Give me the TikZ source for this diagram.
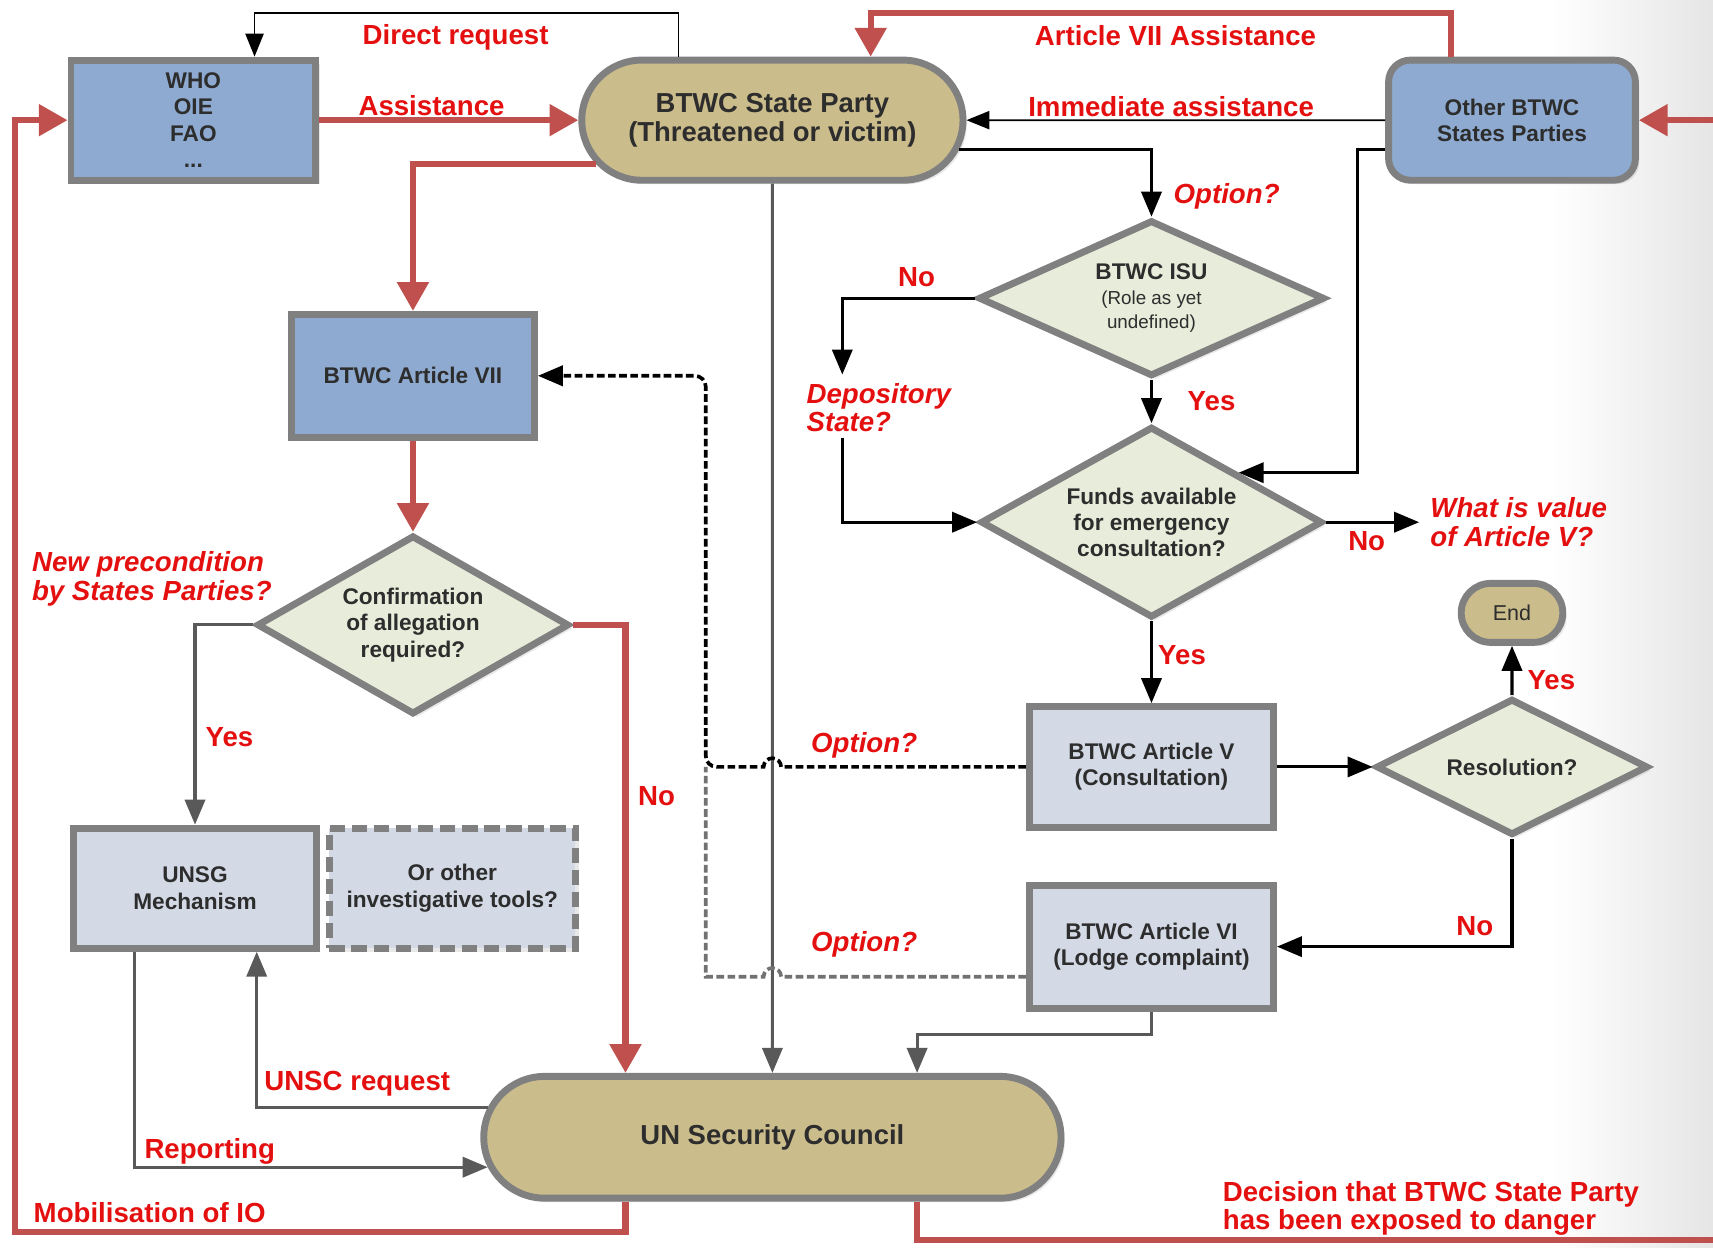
\documentclass[tikz,border=0pt]{standalone}
\usepackage{fontspec}
\setmainfont{Liberation Sans}
\usetikzlibrary{shapes.geometric, shapes.misc, arrows.meta, calc, shadows}

\definecolor{boxblue}{RGB}{142,170,208}
\definecolor{boxlight}{RGB}{211,218,230}
\definecolor{tanfill}{RGB}{203,188,140}
\definecolor{palefill}{RGB}{232,236,218}
\definecolor{rim}{RGB}{128,128,128}
\definecolor{linered}{RGB}{192,80,77}
\definecolor{textred}{RGB}{228,16,16}
\definecolor{linegrey}{RGB}{89,89,89}
\definecolor{ink}{RGB}{45,45,45}

\newcommand{\bigtext}{\fontsize{14.3}{15.4}\selectfont\bfseries}
\newcommand{\isusmall}{\fontsize{9.8}{12}\selectfont\mdseries}

\begin{document}
\begin{tikzpicture}[x=0.02cm, y=-0.02cm,
    box/.style={draw=rim, line width=3.6pt, rectangle, inner sep=0pt, align=center, text=ink,
        font=\fontsize{11.8}{13.7}\selectfont\bfseries,
        drop shadow={opacity=0.18, shadow xshift=2pt, shadow yshift=-2pt}},
    terminal/.style={box, rounded rectangle, fill=tanfill},
    decision/.style={box, diamond, fill=palefill},
    lbl/.style={text=textred, inner sep=0pt, align=left, font=\fontsize{14.4}{14.8}\selectfont\bfseries},
    ilbl/.style={lbl, font=\fontsize{14.4}{14.8}\selectfont\bfseries\itshape},
    redarrow/.style={draw=linered, line width=3.2pt, -{Triangle[length=15pt,width=16pt]}},
    blkarrow/.style={draw=black, line width=1.6pt, -{Triangle[length=13pt,width=10.5pt]}},
    thinarrow/.style={draw=black, line width=0.9pt, -{Triangle[length=12pt,width=9.5pt]}},
    greyarrow/.style={draw=linegrey, line width=1.6pt, -{Triangle[length=13pt,width=10.5pt]}},
    dashline/.style={line width=1.9pt, dash pattern=on 4pt off 1.8pt}]

    \useasboundingbox (0,0) rectangle (1568,1142);
    \clip (0,0) rectangle (1568,1142);
    \shade[left color=white, right color=black!10] (1420,0) rectangle (1568,1142);

    % Top row
    \node[box, fill=boxblue, minimum width=4.48cm, minimum height=2.2cm] (who) at (177,110) {WHO\\OIE\\FAO\\...};
    \node[terminal, minimum width=6.98cm, minimum height=2.2cm, font=\bigtext] (party) at (707,110) {BTWC State Party\\(Threatened or victim)};
    \node[box, fill=boxblue, rounded corners=0.4cm, minimum width=4.52cm, minimum height=2.2cm] (other) at (1384,110) {Other BTWC\\States Parties};

    % Left branch
    \node[box, fill=boxblue, minimum width=4.45cm, minimum height=2.25cm] (art7) at (378,344) {BTWC Article VII};
    \node[decision, aspect=1.75, minimum width=5.72cm, minimum height=3.28cm] (confirm) at (378,572) {Confirmation\\of allegation\\required?};
    \node[box, fill=boxlight, minimum width=4.45cm, minimum height=2.2cm] (unsg) at (178.5,813) {UNSG\\Mechanism};
    \node[box, fill=boxlight, dash pattern=on 8pt off 3.5pt, minimum width=4.5cm, minimum height=2.2cm] (tools) at (414,813) {Or other\\investigative tools?};
    \node[terminal, minimum width=10.57cm, minimum height=2.23cm, font=\bigtext] (unsc) at (707,1041) {UN Security Council};

    % Right branch
    \node[decision, aspect=2.2, minimum width=6.34cm, minimum height=2.86cm] (isu) at (1054,273) {BTWC ISU\\[-1pt]{\isusmall (Role as yet}\\[-1pt]{\isusmall undefined)}};
    \node[decision, aspect=1.8, minimum width=6.26cm, minimum height=3.5cm] (funds) at (1054,478) {Funds available\\for emergency\\consultation?};
    \node[box, fill=boxlight, minimum width=4.47cm, minimum height=2.21cm] (art5) at (1054,702) {BTWC Article V\\(Consultation)};
    \node[decision, aspect=2, minimum width=4.98cm, minimum height=2.5cm] (resol) at (1384,702) {Resolution?};
    \node[terminal, minimum width=1.86cm, minimum height=1.08cm, font=\fontsize{11.2}{13}\selectfont] (endn) at (1384,561) {End};
    \node[box, fill=boxlight, minimum width=4.47cm, minimum height=2.25cm] (art6) at (1054,866.5) {BTWC Article VI\\(Lodge complaint)};

    % Labels
    \node[lbl] (ldirect) at (417,34) {Direct request};
    \node[lbl] (lart7) at (1076,33) {Article VII Assistance};
    \node[lbl] (lassist) at (395,97) {Assistance};
    \node[lbl] (limmed) at (1072,98) {Immediate assistance};
    \node[ilbl, anchor=west] (lopt1) at (1074,180) {Option?};
    \node[lbl] (lno1) at (839,254) {No};
    \node[lbl] (lyes1) at (1109,367) {Yes};
    \node[ilbl, anchor=west] (dep) at (738,373) {Depository\\State?};
    \node[ilbl, anchor=west] (whatv) at (1309,478) {What is value\\of Article V?};
    \node[lbl] (lno2) at (1251,495) {No};
    \node[lbl] (lyes2) at (1082,600) {Yes};
    \node[lbl] (lyes3) at (1420,623) {Yes};
    \node[lbl] (lno3) at (1350,848) {No};
    \node[ilbl, anchor=west] (lprecond) at (29,530) {New precondition\\by States Parties?};
    \node[lbl] (lyes4) at (210,675) {Yes};
    \node[lbl] (lno4) at (601,729) {No};
    \node[ilbl] (lopt2) at (791,682) {Option?};
    \node[ilbl] (lopt3) at (791,864) {Option?};
    \node[lbl] (lunsc) at (327,992) {UNSC request};
    \node[lbl] (lreport) at (192,1054) {Reporting};
    \node[lbl] (lmobil) at (137,1110) {Mobilisation of IO};
    \node[lbl, anchor=west] (ldecision) at (1119,1106) {Decision that BTWC State Party\\has been exposed to danger};

    % Connectors, top
    \draw[thinarrow] ([xshift=-1.72cm]party.north) -- ++(0,0.8cm) -| ([xshift=1.12cm]who.north);
    \draw[redarrow] (who) -- (party);
    \draw[redarrow] ([xshift=-1.12cm]other.north) -- ++(0,0.8cm) -| ([xshift=1.8cm]party.north);
    \draw[thinarrow] (other) -- (party);
    \draw[redarrow] ([xshift=-2.69cm]unsc.south) -- ++(0,-0.56cm) -| ([xshift=-0.96cm]who.west) -- (who.west);
    \draw[redarrow] ([xshift=2.65cm]unsc.south) -- ++(0,-0.7cm) -| ([xshift=1.6cm]other.east) -- (other.east);

    % Connectors, left
    \draw[redarrow] (party.194) -| (art7.north);
    \draw[redarrow] (art7) -- (confirm);
    \draw[greyarrow] (confirm.west) -| (unsg.north);
    \draw[redarrow] (confirm.east) -| ([xshift=-2.69cm]unsc.north);
    \draw[greyarrow] (party) -- (unsc);
    \draw[greyarrow] ([xshift=-1.11cm]unsg.south) |- (unsc.186.6);
    \draw[greyarrow] (unsc.174.1) -| ([xshift=1.13cm]unsg.south);

    % Connectors, right
    \draw[blkarrow] (party.-9) -| (isu.north);
    \draw[blkarrow] (isu.west) -| ([xshift=0.66cm,yshift=0.15cm]dep.north west);
    \draw[blkarrow] ([xshift=0.66cm,yshift=-0.1cm]dep.south west) |- (funds.west);
    \draw[blkarrow] (isu) -- (funds);
    \draw[blkarrow] ([yshift=-0.54cm]other.west) -- ++(-0.5cm,0) |- (funds.north east);
    \draw[blkarrow] (funds.east) -- ([xshift=-0.2cm]funds.east -| whatv.west);
    \draw[blkarrow] (funds) -- (art5);
    \draw[blkarrow] (art5) -- (resol);
    \draw[blkarrow] (resol) -- (endn);
    \draw[blkarrow] (resol.south) |- (art6.east);
    \draw[greyarrow] (art6.south) -- ++(0,-0.42cm) -| ([xshift=2.65cm]unsc.north);

    % Dashed options back to Article VII
    \draw[dashline, draw=black, -{Triangle[length=13pt,width=10.5pt]}] (art5.west)
        -- ($(party.south |- art5.west)+(0.16cm,0)$) arc[start angle=0, end angle=180, radius=0.16cm]
        [rounded corners=0.2cm] -- ($(party.south |- art5.west)+(-1.22cm,0)$) |- (art7.east);
    \draw[dashline, draw=linegrey!85] ([yshift=-0.55cm]art6.west)
        -- ($(party.south |- art6.west)+(0.16cm,-0.55cm)$) arc[start angle=0, end angle=180, radius=0.16cm]
        -- ($(party.south |- art6.west)+(-1.22cm,-0.55cm)$) -- ($(party.south |- art5.west)+(-1.22cm,0)$);
\end{tikzpicture}
\end{document}
